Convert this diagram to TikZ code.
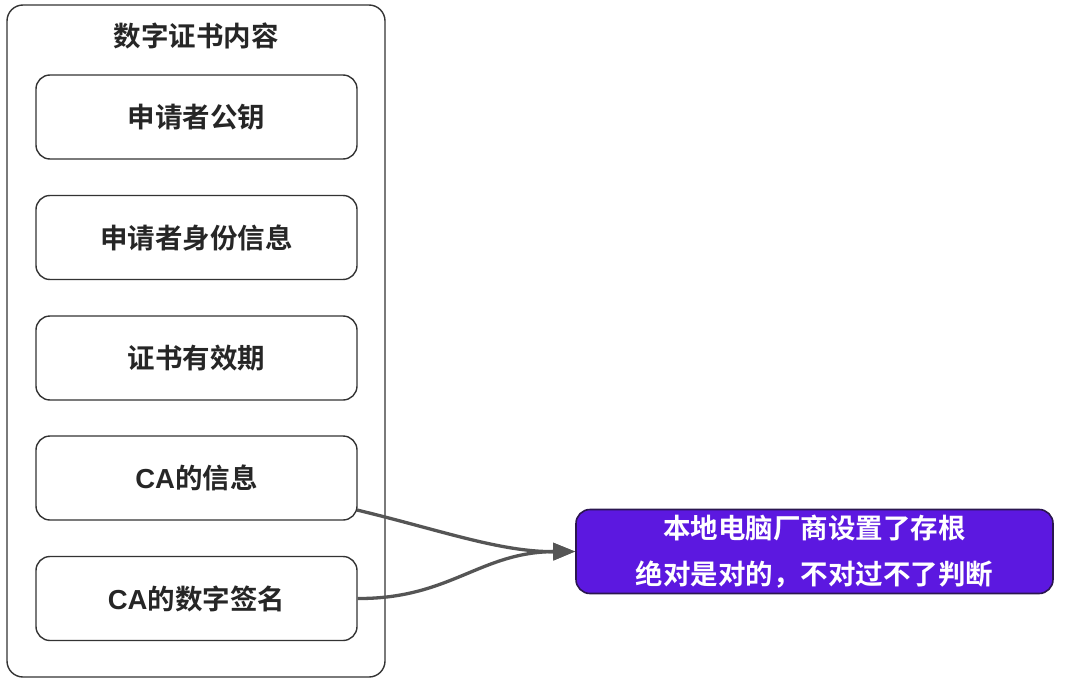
\documentclass[tikz,border=0pt]{standalone}
\usepackage{fontspec}
\newfontfamily\cjk{Noto Sans CJK SC Bold}
\newfontfamily\latf{Liberation Sans Bold}
\usetikzlibrary{arrows.meta}
\definecolor{linegray}{HTML}{555555}
\definecolor{boxline}{HTML}{333333}
\definecolor{purplefill}{HTML}{5C18E0}
\definecolor{purpleline}{HTML}{2B1650}
\tikzset{
  itembox/.style={draw=boxline, line width=1.4pt, rounded corners=14pt, fill=white,
    minimum width=321pt, minimum height=84pt, inner sep=0pt,
    font=\cjk\fontsize{27.5}{31}\selectfont, text=black!85},
  outerbox/.style={draw=boxline, line width=1.4pt, rounded corners=16pt},
  notebox/.style={draw=purpleline, line width=1.6pt, rounded corners=14pt, fill=purplefill,
    minimum width=477pt, minimum height=84pt, inner sep=0pt, align=center,
    font=\cjk\fontsize{27.5}{51}\selectfont, text=white},
  conn/.style={draw=linegray, line width=3.3pt, -{Triangle[length=22pt,width=17pt]}},
}
\begin{document}
\begin{tikzpicture}[x=1pt,y=-1pt]
\useasboundingbox (0,0) rectangle (1065,682);
\draw[outerbox] (7,5) rectangle (385,677);
\node[font=\cjk\fontsize{27.5}{31}\selectfont, text=black!85] (title) at (196,36) {数字证书内容};
\node[itembox] (pubkey) at (196.5,117) {申请者公钥};
\node[itembox] (ident) at (196.5,237.5) {申请者身份信息};
\node[itembox] (valid) at (196.5,358) {证书有效期};
\node[itembox] (cainfo) at (196.5,478) {{\latf CA}的信息};
\node[itembox] (casig) at (196.5,598.5) {{\latf CA}的数字签名};
\node[notebox] (note) at (814.5,551.5) {本地电脑厂商设置了存根\\[-5pt]绝对是对的，不对过不了判断};
\coordinate (s1) at (357,510);
\draw[conn] (s1) .. controls (440,530) and (500,552) .. (note.west);
\draw[conn] (casig.east) .. controls (450,599) and (480,552) .. (note.west);
\end{tikzpicture}
\end{document}
